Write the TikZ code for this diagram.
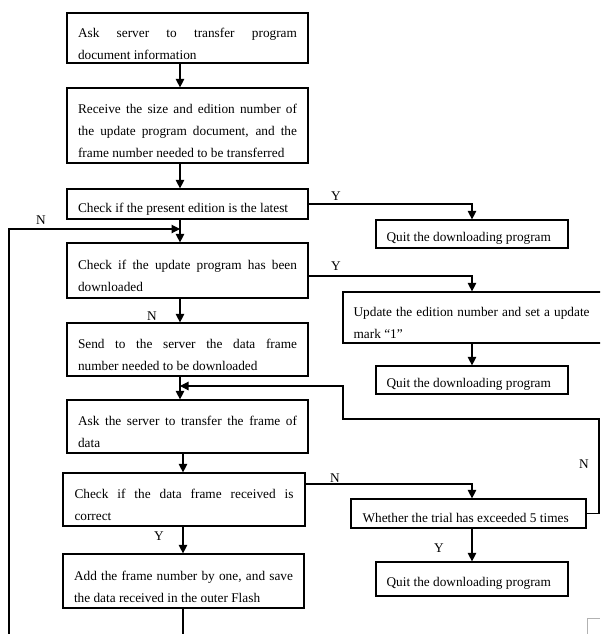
\documentclass[tikz,border=0pt]{standalone}
\usepackage{fontspec}
\setmainfont{Liberation Serif}
\usetikzlibrary{arrows.meta}
\hyphenpenalty=10000
\exhyphenpenalty=10000
\tolerance=9999
\hbadness=10000
\begin{document}
\begin{tikzpicture}[x=1pt,y=-1pt,
  box/.style={draw, line width=1.2pt, inner sep=0pt},
  txt/.style={inner sep=0pt, font=\fontsize{13.3}{22}\selectfont, align=justify, yshift=-5.5pt},
  txtone/.style={inner sep=0pt, font=\fontsize{13.3}{22}\selectfont, yshift=-4.5pt, anchor=west},
  lab/.style={inner sep=0pt, font=\fontsize{13.3}{16}\selectfont},
  conn/.style={line width=1.1pt},
  arr/.style={conn, -{Triangle[length=8.5pt,width=8.5pt]}},
]
\useasboundingbox (0,0) rectangle (600,634);
\clip (0,0) rectangle (600,634);

% left column boxes
\node[box, minimum width=241pt, minimum height=50pt] (b1) at (187.5,38) {};
\node[box, minimum width=241pt, minimum height=75pt] (b2) at (187.5,125.5) {};
\node[box, minimum width=241pt, minimum height=30pt] (b3) at (187.5,204) {};
\node[box, minimum width=241pt, minimum height=55pt] (b4) at (187.5,270.5) {};
\node[box, minimum width=241pt, minimum height=53pt] (b5) at (187.5,349.5) {};
\node[box, minimum width=241pt, minimum height=53pt] (b6) at (187.5,426.5) {};
\node[box, minimum width=242pt, minimum height=53pt] (b7) at (184,499.5) {};
\node[box, minimum width=241pt, minimum height=54pt] (b8) at (183.5,581) {};

% right column boxes
\node[box, minimum width=192pt, minimum height=28pt] (q1) at (472,234) {};
\node[box, minimum width=269pt, minimum height=51pt] (up) at (477.5,317.5) {};
\node[box, minimum width=192pt, minimum height=28pt] (q2) at (472,380) {};
\node[box, minimum width=235pt, minimum height=29pt] (wh) at (468.5,513.5) {};
\node[box, minimum width=192pt, minimum height=34pt] (q3) at (472,579) {};

% texts
\node[txt, text width=219pt] (t1) at (b1) {Ask server to transfer program\linebreak document information};
\node[txt, text width=219pt] (t2) at (b2) {Receive the size and edition number of\linebreak the update program document, and the\linebreak frame number needed to be transferred};
\node[txt, text width=219pt] (t3) at (b3) {Check if the present edition is the latest};
\node[txt, text width=219pt] (t4) at (b4) {Check if the update program has been\linebreak downloaded};
\node[txt, text width=219pt] (t5) at (b5) {Send to the server the data frame\linebreak number needed to be downloaded};
\node[txt, text width=219pt] (t6) at (b6) {Ask the server to transfer the frame of\linebreak data};
\node[txt, text width=219pt] (t7) at (b7) {Check if the data frame received is\linebreak correct};
\node[txt, text width=219pt] (t8) at (b8) {Add the frame number by one, and save\linebreak the data received in the outer Flash};

\node[txtone] (tq1) at ([xshift=11pt]q1.west) {Quit the downloading program};
\node[txt, anchor=west, text width=236pt] (tup) at ([xshift=11pt]up.west) {Update the edition number and set a update\linebreak mark “1”};
\node[txtone] (tq2) at ([xshift=11pt]q2.west) {Quit the downloading program};
\node[txtone] (twh) at ([xshift=12pt]wh.west) {Whether the trial has exceeded 5 times};
\node[txtone] (tq3) at ([xshift=11pt]q3.west) {Quit the downloading program};

% helper coordinates
\coordinate (ax) at (180,0);
\coordinate (bx) at (183,0);
\coordinate (rx) at (472,0);
\coordinate (y4) at (0,276);
\coordinate (y7) at (0,484);
\coordinate (endb) at (183,650);
\coordinate (lbot) at (9,650);
\coordinate (ltop) at (9,229);
\coordinate (rr) at (599,419);
\coordinate (rl) at (343,386);

% main vertical flow
\draw[arr] (b1.south -| ax) -- (b2.north -| ax);
\draw[arr] (b2.south -| ax) -- (b3.north -| ax);
\draw[arr] (b3.south -| ax) -- (b4.north -| ax);
\draw[arr] (b4.south -| ax) -- (b5.north -| ax);
\draw[arr] (b5.south -| ax) -- (b6.north -| ax);
\draw[arr] (b6.south -| bx) -- (b7.north -| bx);
\draw[arr] (b7.south -| bx) -- (b8.north -| bx);
\draw[conn] (b8.south -| bx) -- (endb);

% left loop back
\draw[arr] (lbot) -- (ltop) -- (ltop -| ax);

% right branches
\draw[arr] (b3.east) -- (b3.east -| rx) -- (q1.north -| rx);
\draw[arr] (b4.east |- y4) -- (y4 -| rx) -- (up.north -| rx);
\draw[arr] (up.south -| rx) -- (q2.north -| rx);
\draw[arr] (b7.east |- y7) -- (y7 -| rx) -- (wh.north -| rx);
\draw[arr] (wh.south -| rx) -- (q3.north -| rx);
\draw[arr] (wh.east) -- (wh.east -| rr) -- (rr) -- (rr -| rl) -- (rl) -- (rl -| ax);

% labels
\node[lab] (lN1) at (41,220) {N};
\node[lab] (lY1) at (336,196) {Y};
\node[lab] (lY2) at (336,266) {Y};
\node[lab] (lN2) at (152,316) {N};
\node[lab] (lN3) at (335,478) {N};
\node[lab] (lN4) at (584,464) {N};
\node[lab] (lY3) at (439,548) {Y};
\node[lab] (lY4) at (159,536) {Y};

% page corner mark
\draw[black!30, line width=0.8pt] (587,634) -- (587,618) -- (600,618);
\end{tikzpicture}
\end{document}
